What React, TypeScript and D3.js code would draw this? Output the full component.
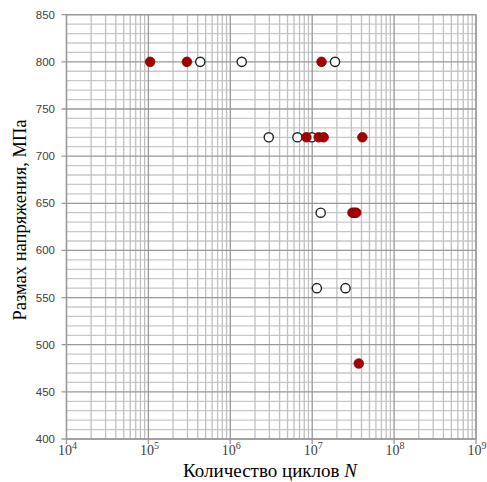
import React from "react";
import * as d3 from "d3";

const filledN = [1.05e5, 2.95e5, 1.3e7, 8.5e6, 1.2e7, 1.38e7, 4.1e7, 3.1e7, 3.45e7, 3.7e7];
const filledS = [800, 800, 800, 720, 720, 720, 720, 640, 640, 480];
const openN = [4.3e5, 1.38e6, 1.9e7, 2.95e6, 6.6e6, 9.9e6, 1.27e7, 3.25e7, 1.14e7, 2.55e7];
const openS = [800, 800, 800, 720, 720, 720, 640, 640, 560, 560];
const yTicks = [400, 450, 500, 550, 600, 650, 700, 750, 800, 850];
const xExps = [4, 5, 6, 7, 8, 9];

export default function App() {
  const W = 487, H = 482;
  const left = 66.5, right = 476, top = 14.7, bottom = 439;
  const x = d3.scaleLog().domain([1e4, 1e9]).range([left, right]);
  const y = d3.scaleLinear().domain([400, 850]).range([bottom, top]);

  const minorX: number[] = [];
  for (let e = 4; e < 9; e++) for (let m = 2; m <= 9; m++) minorX.push(m * Math.pow(10, e));
  const minorY = d3.range(400, 851, 10).filter((v) => v % 50 !== 0);

  return (
    <svg width={W} height={H} style={{ position: "absolute", left: 0, top: 0, background: "#fff" }}>
      {minorY.map((v) => (
        <line key={"my" + v} x1={left} x2={right} y1={y(v)} y2={y(v)} stroke="#c8c8c8" strokeWidth={1.3} />
      ))}
      {minorX.map((v) => (
        <line key={"mx" + v} x1={x(v)} x2={x(v)} y1={top} y2={bottom} stroke="#c0c0c0" strokeWidth={1.3} />
      ))}
      {yTicks.map((v) => (
        <line key={"Y" + v} x1={left - 5} x2={right} y1={y(v)} y2={y(v)} stroke="#999" strokeWidth={1.3} />
      ))}
      {xExps.map((e) => (
        <line key={"X" + e} x1={x(Math.pow(10, e))} x2={x(Math.pow(10, e))} y1={top} y2={bottom + 5} stroke="#999" strokeWidth={1.3} />
      ))}
      <rect x={left} y={top} width={right - left} height={bottom - top} fill="none" stroke="#999" strokeWidth={1.3} />
      {yTicks.map((v) => (
        <text key={"yt" + v} x={55} y={y(v) + 4} textAnchor="end" fontFamily="Liberation Sans, Arial, sans-serif" fontSize={11.5} fill="#404040">
          {v}
        </text>
      ))}
      {xExps.map((e) => (
        <text key={"xt" + e} x={x(Math.pow(10, e)) + 1} y={455} textAnchor="middle" fontFamily="Liberation Serif, Times New Roman, serif" fontSize={14} fill="#404040">
          10
          <tspan dy={-6} fontSize={10}>{e}</tspan>
        </text>
      ))}
      <text x={270} y={477} textAnchor="middle" fontFamily="Liberation Serif, Times New Roman, serif" fontSize={19} fill="#000">
        Количество циклов <tspan fontStyle="italic">N</tspan>
      </text>
      <text transform={`translate(26, ${220}) rotate(-90)`} textAnchor="middle" fontFamily="Liberation Serif, Times New Roman, serif" fontSize={18.5} fill="#000">
        Размах напряжения, МПа
      </text>
      {openN.map((n, i) => (
        <circle key={"o" + i} cx={x(n)} cy={y(openS[i])} r={4.6} fill="#fff" stroke="#222" strokeWidth={1.4} />
      ))}
      {filledN.map((n, i) => (
        <circle key={"f" + i} cx={x(n)} cy={y(filledS[i])} r={4.8} fill="#a50000" stroke="#8a0000" strokeWidth={0.8} />
      ))}
    </svg>
  );
}
